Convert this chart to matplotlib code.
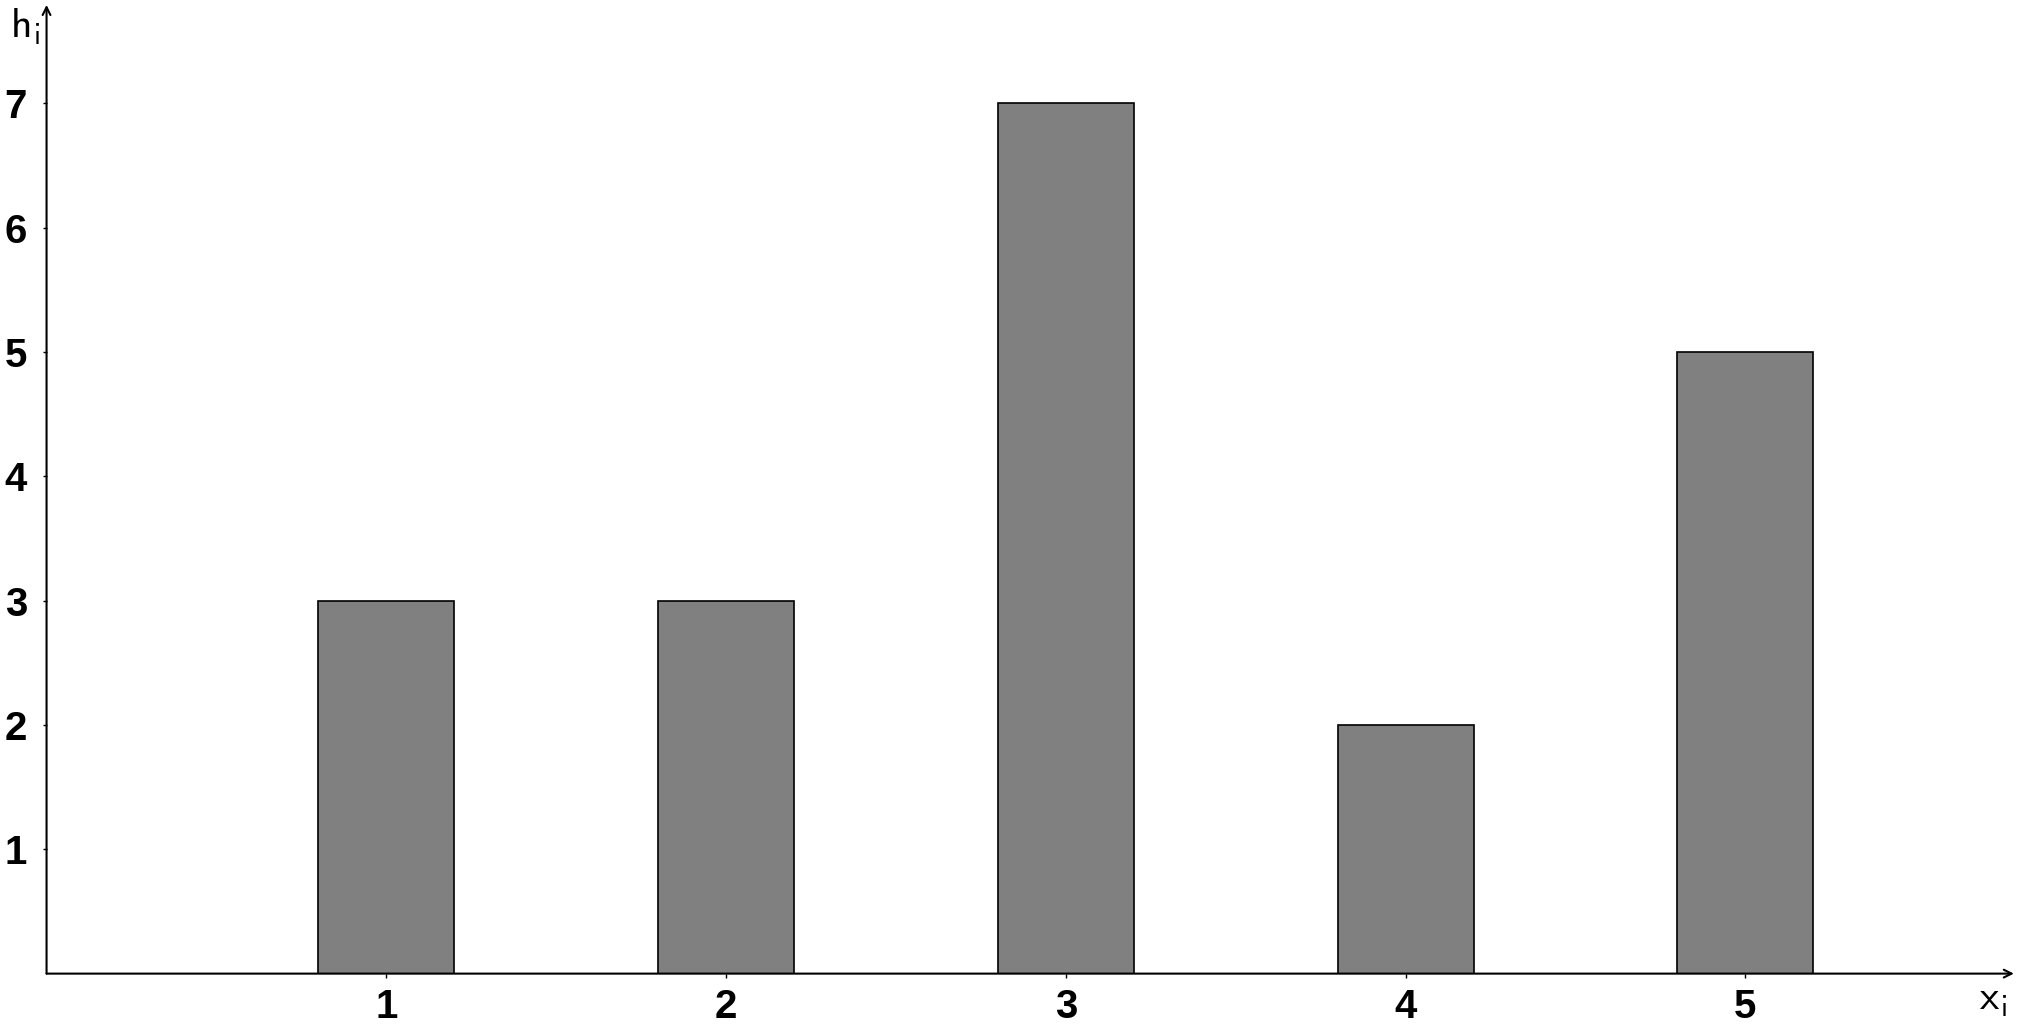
import numpy as np
import matplotlib
matplotlib.use("Agg")
from matplotlib import pyplot as plt

# data
xi = [1, 2, 3, 4, 5]
hi = [3, 3, 7, 2, 5]
yticks = [1, 2, 3, 4, 5, 6, 7]

plt.rcParams['mathtext.fontset'] = 'cm'

fig = plt.figure(figsize=(20.24, 10.24), dpi=100)
ax = fig.add_axes([0.023, 0.0492, 0.972, 0.946])

ax.bar(xi, hi, width=0.4, color='#808080', edgecolor='black', linewidth=1.2, zorder=2)

ax.set_xlim(0, 5.79)
ax.set_ylim(0, 7.79)
for s in ax.spines.values():
    s.set_visible(False)

# axes as arrows
ax.annotate('', xy=(1, 0), xytext=(0, 0), xycoords='axes fraction',
            arrowprops=dict(arrowstyle='->', lw=1.5, color='black', shrinkA=0, shrinkB=0,
                            mutation_scale=14))
ax.annotate('', xy=(0, 1), xytext=(0, 0), xycoords='axes fraction',
            arrowprops=dict(arrowstyle='->', lw=1.5, color='black', shrinkA=0, shrinkB=0,
                            mutation_scale=14))

ax.set_xticks(xi)
ax.set_yticks(yticks)
ax.tick_params(axis='both', direction='out', length=3, width=1, color='black')
ax.tick_params(axis='x', pad=7)
ax.tick_params(axis='y', pad=11)
for lab in ax.get_xticklabels() + ax.get_yticklabels():
    lab.set_fontfamily('Liberation Sans')
    lab.set_fontweight('bold')
    lab.set_fontsize(29)

fig.text(0.005, 0.975, r'$\mathsf{h}_\mathsf{i}$', fontsize=30, ha='left', va='center')
fig.text(0.978, 0.025, r'$\mathsf{x}_\mathsf{i}$', fontsize=30, ha='left', va='center')

fig.savefig('out.png', dpi=100)
